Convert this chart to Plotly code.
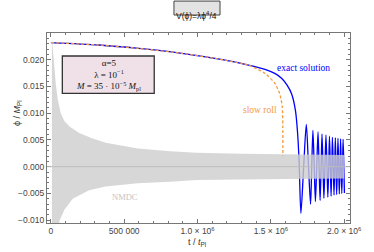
import plotly.graph_objects as go

# ---------------- data ----------------
# exact solution (blue): t values and phi values
exact_t = [0, 0.327e6, 0.6e6, 0.893e6, 1.17e6, 1.347e6, 1.46e6, 1.53e6, 1.575e6,
           1.612e6, 1.642e6, 1.668e6, 1.682e6, 1.693e6, 1.705e6,
           1.724e6, 1.742e6, 1.757e6, 1.771e6, 1.779e6, 1.787e6, 1.796e6, 1.804e6,
           1.813e6, 1.822e6, 1.829e6, 1.836e6, 1.843e6, 1.849e6, 1.856e6, 1.862e6,
           1.869e6, 1.876e6, 1.883e6, 1.889e6, 1.895e6, 1.900e6, 1.906e6, 1.911e6,
           1.916e6, 1.920e6, 1.926e6, 1.931e6, 1.936e6, 1.940e6, 1.945e6, 1.949e6,
           1.954e6, 1.958e6, 1.963e6, 1.967e6, 1.972e6, 1.976e6, 1.980e6, 1.984e6,
           1.989e6, 1.993e6, 1.998e6, 2.002e6]
exact_phi = [0.0232, 0.02275, 0.0221, 0.0212, 0.0200, 0.0190, 0.0182, 0.0174, 0.0165,
             0.0152, 0.0136, 0.0105, 0.0065, 0.0010, -0.0087,
             0.0, 0.0079, 0.0, -0.0070, 0.0, 0.0068, 0.0, -0.0065,
             0.0, 0.0065, 0.0, -0.0063, 0.0, 0.0061, 0.0, -0.0059,
             0.0, 0.0059, 0.0, -0.0057, 0.0, 0.0057, 0.0, -0.0055,
             0.0, 0.0055, 0.0, -0.0053, 0.0, 0.0054, 0.0, -0.0052,
             0.0, 0.0053, 0.0, -0.0051, 0.0, 0.0052, 0.0, -0.0050,
             0.0, 0.0051, 0.0, -0.0049]

# slow roll (orange dashed)
slow_t = [0, 0.327e6, 0.6e6, 0.893e6, 1.17e6, 1.347e6, 1.46e6, 1.527e6, 1.56e6,
          1.578e6, 1.5817e6, 1.582e6]
slow_phi = [0.0232, 0.02275, 0.0221, 0.0212, 0.0200, 0.0190, 0.01745, 0.0156, 0.0137,
            0.0112, 0.0075, 0.0019]

# NMDC oscillation band (grey): upper and lower envelopes
band_up_t = [0.007e6, 0.02e6, 0.033e6, 0.047e6, 0.067e6, 0.093e6, 0.127e6, 0.193e6,
             0.28e6, 0.373e6, 0.593e6, 0.813e6, 0.993e6, 1.3e6, 1.6e6, 1.8e6, 2.0e6]
band_up = [0.0240, 0.0195, 0.0155, 0.0125, 0.0100, 0.0085, 0.0075, 0.0063,
           0.0053, 0.0045, 0.0034, 0.0029, 0.0026, 0.0024, 0.0023, 0.0022, 0.0022]
band_lo_t = [0.007e6, 0.049e6, 0.06e6, 0.093e6, 0.149e6, 0.26e6, 0.373e6, 0.593e6,
             0.813e6, 0.993e6, 1.3e6, 1.6e6, 1.8e6, 2.0e6]
band_lo = [-0.0115, -0.0115, -0.0100, -0.0080, -0.0060, -0.0044, -0.0037, -0.0031,
           -0.0028, -0.0025, -0.0024, -0.0023, -0.0022, -0.0022]

x_tickvals = [0, 500000, 1000000, 1500000, 2000000]
x_ticktext = ["0", "500 000", "1.0 × 10<sup>6</sup>", "1.5 × 10<sup>6</sup>", "2.0 × 10<sup>6</sup>"]
y_tickvals = [-0.010, -0.005, 0.0, 0.005, 0.010, 0.015, 0.020]
y_ticktext = ["−0.010", "−0.005", "0.000", "0.005", "0.010", "0.015", "0.020"]

# ---------------- figure ----------------
SERIF = "Liberation Serif, DejaVu Serif, serif"
SANS = "Liberation Sans, Arial, sans-serif"
BLUE = "#0000FF"
ORANGE = "#F39A3C"

fig = go.Figure()

fig.add_trace(go.Scatter(x=exact_t, y=exact_phi, mode="lines",
                         line=dict(color=BLUE, width=1.3, shape="spline", smoothing=0.8),
                         hoverinfo="skip", showlegend=False))
fig.add_trace(go.Scatter(x=slow_t, y=slow_phi, mode="lines",
                         line=dict(color=ORANGE, width=1.3, dash="3px,2px",
                                   shape="spline", smoothing=0.6),
                         hoverinfo="skip", showlegend=False))
band_x = band_up_t + band_lo_t[::-1]
band_y = band_up + band_lo[::-1]
fig.add_trace(go.Scatter(x=band_x, y=band_y, mode="lines", fill="toself",
                         fillcolor="rgba(205,205,205,0.8)",
                         line=dict(width=0, color="rgba(0,0,0,0)"),
                         hoverinfo="skip", showlegend=False))

# zero axis line
fig.add_shape(type="line", xref="paper", yref="y", x0=0, x1=1, y0=0, y1=0,
              line=dict(color="#BDBDBD", width=1))

# parameter box
fig.add_shape(type="rect", xref="paper", yref="paper", x0=0.0506, x1=0.3539,
              y0=0.6826, y1=0.8789, fillcolor="#F0E1E9", line=dict(color="#333333", width=1.3))
fig.add_annotation(xref="paper", yref="paper", x=0.2023, y=0.781, xanchor="center",
                   yanchor="middle", align="center",
                   text="α=5<br>λ = 10<sup>−1</sup><br><i>M</i> = 35 · 10<sup>−5</sup> <i>M</i><sub>pl</sub>",
                   showarrow=False, font=dict(family=SERIF, size=9, color="#111"))

# title box
fig.add_shape(type="rect", xref="paper", yref="paper", x0=0.419, x1=0.571,
              y0=1.0947, y1=1.168, fillcolor="#E3E3E3", line=dict(color="#444", width=1))
fig.add_annotation(xref="paper", yref="paper", x=0.495, y=1.1316,
                   text="V(ϕ)=λϕ<sup>4</sup>/4", showarrow=False,
                   font=dict(family=SANS, size=8.5, color="#111"))

# curve labels
fig.add_annotation(x=1.72e6, y=0.01845, text="exact solution", showarrow=False,
                   font=dict(family=SERIF, size=9.5, color=BLUE))
fig.add_annotation(x=1.427e6, y=0.0106, text="slow roll", showarrow=False,
                   font=dict(family=SERIF, size=9.5, color=ORANGE))
fig.add_annotation(x=0.507e6, y=-0.00566, text="NMDC", showarrow=False,
                   font=dict(family=SERIF, size=8.5, color="#C4C4C4"))

# axis titles
fig.add_annotation(xref="paper", yref="paper", x=0.495, y=-0.105, yanchor="middle",
                   text="t / <i>t</i><sub>Pl</sub>", showarrow=False,
                   font=dict(family=SANS, size=9, color="#333"))
fig.add_annotation(xref="paper", yref="paper", x=-0.12, y=0.58, textangle=-90,
                   text="ϕ / <i>M</i><sub>Pl</sub>", showarrow=False,
                   font=dict(family=SANS, size=9, color="#333"))

axis_common = dict(showline=True, linecolor="#777", linewidth=1, mirror="allticks",
                   ticks="inside", ticklen=4, tickcolor="#777", showgrid=False,
                   zeroline=False, tickfont=dict(family=SANS, size=8.5, color="#444"))

fig.update_xaxes(range=[-0.0267e6, 2.04e6], tickmode="array", tickvals=x_tickvals,
                 ticktext=x_ticktext,
                 minor=dict(dtick=100000, tick0=0, ticks="inside", ticklen=2, tickcolor="#777"),
                 **axis_common)
fig.update_yaxes(range=[-0.01052, 0.02499], tickmode="array", tickvals=y_tickvals,
                 ticktext=y_ticktext,
                 minor=dict(dtick=0.001, tick0=0, ticks="inside", ticklen=2, tickcolor="#777"),
                 **axis_common)

fig.update_layout(width=374, height=252, margin=dict(l=47, r=17, t=33, b=29),
                  plot_bgcolor="white", paper_bgcolor="white", showlegend=False)

fig.write_html("out.html", config={"displayModeBar": False},
               post_script="document.body.style.margin='0';document.body.style.padding='0';")
